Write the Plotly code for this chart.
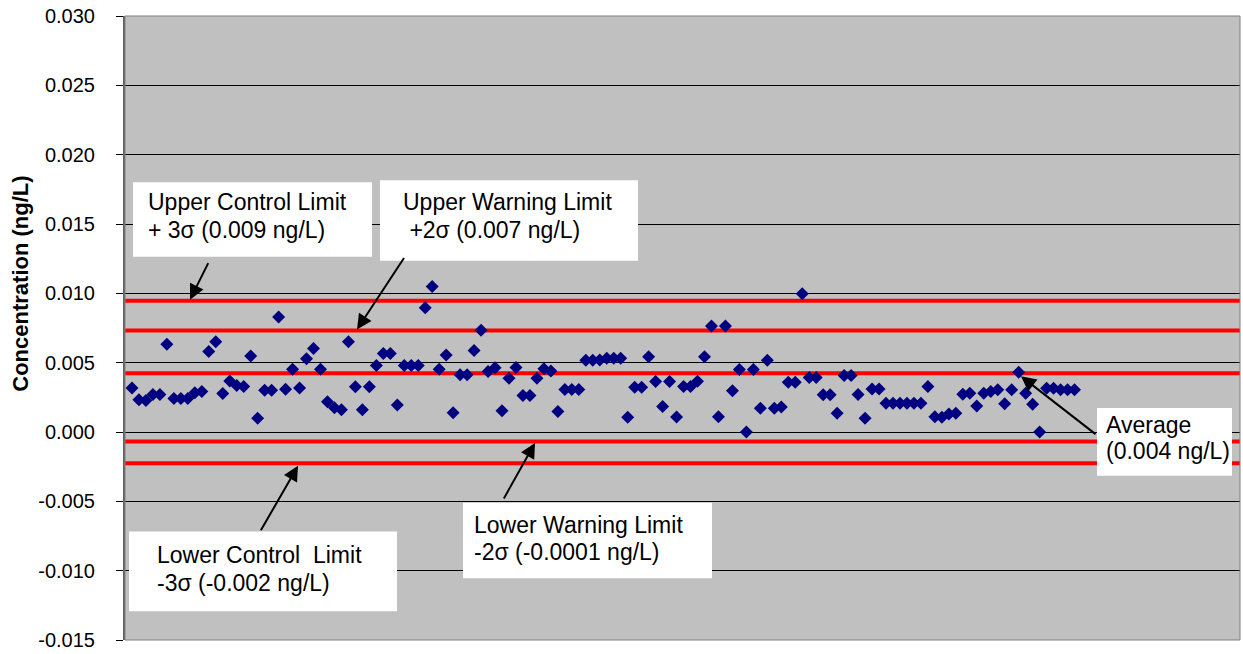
import plotly.graph_objects as go

# ---------------- data ----------------
sample_index = list(range(1, 137))
concentration = [
    0.00318, 0.00232, 0.00228, 0.00270, 0.00270, 0.00633, 0.00241, 0.00241, 0.00242, 0.00283,
    0.00292, 0.00581, 0.00651, 0.00277, 0.00368, 0.00335, 0.00329, 0.00548, 0.00100, 0.00301,
    0.00301, 0.00829, 0.00308, 0.00453, 0.00318, 0.00528, 0.00603, 0.00453, 0.00218, 0.00175,
    0.00160, 0.00651, 0.00326, 0.00160, 0.00326, 0.00479, 0.00567, 0.00567, 0.00194, 0.00479,
    0.00479, 0.00479, 0.00896, 0.01050, 0.00453, 0.00556, 0.00138, 0.00413, 0.00413, 0.00587,
    0.00733, 0.00437, 0.00464, 0.00153, 0.00388, 0.00465, 0.00263, 0.00263, 0.00388, 0.00457,
    0.00440, 0.00148, 0.00306, 0.00306, 0.00306, 0.00518, 0.00518, 0.00519, 0.00531, 0.00531,
    0.00531, 0.00107, 0.00322, 0.00322, 0.00543, 0.00364, 0.00184, 0.00364, 0.00108, 0.00328,
    0.00328, 0.00366, 0.00543, 0.00765, 0.00110, 0.00765, 0.00297, 0.00451, 0.00000, 0.00451,
    0.00172, 0.00517, 0.00172, 0.00180, 0.00359, 0.00359, 0.00997, 0.00393, 0.00393, 0.00268,
    0.00268, 0.00136, 0.00407, 0.00407, 0.00270, 0.00100, 0.00310, 0.00310, 0.00208, 0.00208,
    0.00208, 0.00208, 0.00208, 0.00208, 0.00328, 0.00110, 0.00107, 0.00130, 0.00135, 0.00273,
    0.00280, 0.00188, 0.00280, 0.00292, 0.00304, 0.00203, 0.00304, 0.00431, 0.00280, 0.00201,
    0.00000, 0.00316, 0.00316, 0.00304, 0.00304, 0.00304,
]

limit_names = ["Upper Control Limit", "Upper Warning Limit", "Average",
               "Lower Warning Limit", "Lower Control Limit"]
limit_values = [0.00947, 0.00732, 0.00423, -0.00068, -0.00225]

y_tick_values = [-0.015, -0.010, -0.005, 0.000, 0.005, 0.010, 0.015, 0.020, 0.025, 0.030]
y_tick_labels = ["-0.015", "-0.010", "-0.005", "0.000", "0.005", "0.010",
                 "0.015", "0.020", "0.025", "0.030"]

y_title = "Concentration (ng/L)"

label_lines = [
    ["Upper Control Limit", "+ 3σ (0.009 ng/L)"],
    ["Upper Warning Limit", " +2σ (0.007 ng/L)"],
    ["Lower Control  Limit", "-3σ (-0.002 ng/L)"],
    ["Lower Warning Limit", "-2σ (-0.0001 ng/L)"],
    ["Average", "(0.004 ng/L)"],
]

# ---------------- layout geometry (window pixels) ----------------
W, H = 1243, 654
PLOT_L, PLOT_R, PLOT_T, PLOT_B = 125, 1240, 16, 643
ML, MR, MT, MB = PLOT_L, W - PLOT_R, PLOT_T, H - PLOT_B
PW, PH = PLOT_R - PLOT_L, PLOT_B - PLOT_T
X_RANGE = [0, 159.7]
Y_RANGE = [-0.015, 0.030]


def px(x):
    return (x - PLOT_L) / PW


def py(y):
    return (PLOT_B - y) / PH


FONT = "Liberation Sans, Arial, sans-serif"

fig = go.Figure()

for name, v in zip(limit_names, limit_values):
    fig.add_trace(go.Scatter(
        x=X_RANGE, y=[v, v], mode="lines", name=name,
        line=dict(color="#FF0000", width=4), hoverinfo="skip", showlegend=False,
    ))

fig.add_trace(go.Scatter(
    x=sample_index, y=concentration, mode="markers", name="Concentration",
    marker=dict(symbol="diamond", size=10, color="#000080", line=dict(width=0)),
    showlegend=False,
))

# label boxes and text positions
boxes = [
    (133, 183, 372, 258),
    (380, 181, 638, 262),
    (129, 534, 397, 614),
    (463, 505, 712, 581),
    (1097, 410, 1232, 478),
]
text_pos = [
    (146, 203, 231),
    (401, 203, 231),
    (155, 558, 586),
    (472, 527, 555),
    (1104, 427, 453),
]
arrows = [  # head x, head y, tail dx, tail dy (pixels)
    (190, 301, 19, -38),
    (357, 331, 48, -73),
    (298, 468, -38, 66),
    (535, 445, -32, 57),
    (1021, 378, 76, 59),
]

shapes = [dict(type="rect", xref="paper", yref="paper", x0=0, x1=1, y0=0, y1=1,
               line=dict(color="#808080", width=1), layer="above")]
for (x0, y0, x1, y1) in boxes:
    shapes.append(dict(type="rect", xref="paper", yref="paper",
                       x0=px(x0), x1=px(x1), y0=py(y1), y1=py(y0),
                       fillcolor="white", line=dict(width=0), layer="above"))

annotations = [dict(
    text="<b>" + y_title + "</b>", x=px(21), y=py(285), xref="paper", yref="paper",
    xanchor="center", yanchor="middle", textangle=-90, showarrow=False,
    font=dict(family=FONT, size=22, color="black"),
)]
for lines, (tx, ty1, ty2) in zip(label_lines, text_pos):
    for txt, ty in zip(lines, (ty1, ty2)):
        annotations.append(dict(
            text=txt, x=px(tx), y=py(ty), xref="paper", yref="paper",
            xanchor="left", yanchor="middle", showarrow=False,
            font=dict(family=FONT, size=23, color="black"),
        ))
for (hx, hy, dx, dy) in arrows:
    annotations.append(dict(
        text="", x=px(hx), y=py(hy), xref="paper", yref="paper",
        showarrow=True, ax=dx, ay=dy, arrowhead=2, arrowsize=1.5,
        arrowwidth=2, arrowcolor="black", standoff=0, startstandoff=0,
    ))

fig.update_layout(
    width=W, height=H,
    margin=dict(l=ML, r=MR, t=MT, b=MB, pad=0),
    plot_bgcolor="#C0C0C0", paper_bgcolor="white",
    showlegend=False,
    xaxis=dict(range=X_RANGE, showgrid=False, zeroline=False,
               showticklabels=False, ticks="", showline=False, fixedrange=True),
    yaxis=dict(range=Y_RANGE, tickvals=y_tick_values, ticktext=y_tick_labels,
               showgrid=True, gridcolor="#000000", gridwidth=1, zeroline=False,
               ticks="outside", ticklen=7, tickcolor="black", tickwidth=1,
               showline=True, linecolor="#606060", linewidth=2,
               ticklabelstandoff=17, ticklabeloverflow="allow",
               tickfont=dict(family=FONT, size=20, color="black")),
    shapes=shapes,
    annotations=annotations,
)

# remove the default 8px page margin so the figure fills the window exactly
fig.write_html(
    "out.html",
    config={"displayModeBar": False},
    post_script="document.body.style.margin='0';document.body.style.overflow='hidden';",
)
